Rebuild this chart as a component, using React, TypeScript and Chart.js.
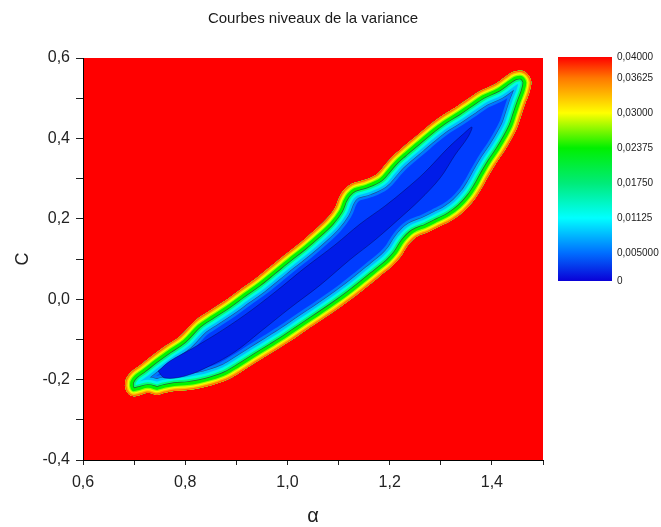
import React, { useEffect, useRef } from 'react';
import { Chart, registerables } from 'chart.js';

Chart.register(...registerables);

const FONT = "'Liberation Sans', Arial, Helvetica, sans-serif";
Chart.defaults.font.family = FONT;

// ---------- data ----------
const TITLE = 'Courbes niveaux de la variance';
const X_TITLE = 'α';
const Y_TITLE = 'C';

const X_TICKS = [0.6, 0.7, 0.8, 0.9, 1.0, 1.1, 1.2, 1.3, 1.4, 1.5];
const X_TICK_LABELS = ['0,6', '', '0,8', '', '1,0', '', '1,2', '', '1,4', ''];
const Y_TICKS = [-0.4, -0.3, -0.2, -0.1, 0, 0.1, 0.2, 0.3, 0.4, 0.5, 0.6];
const Y_TICK_LABELS = ['-0,4', '', '-0,2', '', '0,0', '', '0,2', '', '0,4', '', '0,6'];

const CB_TICKS = [0, 0.005, 0.01125, 0.0175, 0.02375, 0.03, 0.03625, 0.04];
const CB_LABELS = ['0', '0,005000', '0,01125', '0,01750', '0,02375', '0,03000', '0,03625', '0,04000'];

// outer contour (variance = 0.04), [alpha, C]
const OUTER_CONTOUR: [number, number][] = [
  [0.682, -0.216], [0.684, -0.199], [0.694, -0.181], [0.712, -0.164], [0.735, -0.141],
  [0.762, -0.116], [0.790, -0.092], [0.819, -0.054], [0.848, -0.029], [0.878, -0.004],
  [0.907, 0.023], [0.937, 0.050], [0.966, 0.080], [0.995, 0.110], [1.025, 0.140],
  [1.054, 0.172], [1.077, 0.200], [1.093, 0.227], [1.101, 0.252], [1.111, 0.272],
  [1.126, 0.287], [1.152, 0.297], [1.175, 0.311], [1.189, 0.331], [1.205, 0.354],
  [1.220, 0.371], [1.246, 0.399], [1.273, 0.428], [1.299, 0.453], [1.328, 0.476],
  [1.351, 0.496], [1.377, 0.518], [1.406, 0.535], [1.426, 0.553], [1.441, 0.565],
  [1.459, 0.568], [1.471, 0.558], [1.477, 0.540],
  [1.473, 0.513], [1.465, 0.486], [1.457, 0.456], [1.449, 0.426], [1.437, 0.396],
  [1.422, 0.364], [1.406, 0.334], [1.392, 0.304], [1.379, 0.274], [1.365, 0.247],
  [1.345, 0.219], [1.322, 0.197], [1.299, 0.182], [1.275, 0.167], [1.252, 0.155],
  [1.236, 0.135], [1.222, 0.107], [1.205, 0.083], [1.181, 0.058], [1.154, 0.030],
  [1.126, 0.002], [1.099, -0.023], [1.068, -0.050], [1.036, -0.077], [1.005, -0.104],
  [0.974, -0.129], [0.942, -0.154], [0.911, -0.179], [0.884, -0.199], [0.854, -0.213],
  [0.829, -0.221], [0.805, -0.226], [0.780, -0.228], [0.760, -0.233], [0.745, -0.238],
  [0.727, -0.233], [0.712, -0.238], [0.696, -0.241], [0.686, -0.231], [0.682, -0.216],
];

// inner core contour (lowest variance)
const CORE_CONTOUR: [number, number][] = [
  [0.747, -0.179], [0.770, -0.154], [0.809, -0.126], [0.858, -0.089], [0.917, -0.039],
  [0.976, 0.018], [1.034, 0.078], [1.093, 0.135], [1.142, 0.187], [1.191, 0.232],
  [1.230, 0.272], [1.269, 0.316], [1.314, 0.376], [1.344, 0.411], [1.361, 0.428],
  [1.353, 0.403], [1.328, 0.359], [1.299, 0.302], [1.259, 0.247], [1.216, 0.197],
  [1.171, 0.147], [1.122, 0.098], [1.064, 0.035], [1.005, -0.022], [0.946, -0.082],
  [0.897, -0.131], [0.848, -0.166], [0.800, -0.191], [0.760, -0.196], [0.747, -0.179],
];

// ---------- styles ----------
const FIELD_COLOR = 'rgb(255,0,0)';
// inward bands from the outer contour: [inset in px, colour]
const BANDS: [number, string][] = [
  [1.3, 'rgb(255,110,0)'],
  [2.6, 'rgb(255,190,0)'],
  [3.9, 'rgb(240,255,0)'],
  [5, 'rgb(140,255,0)'],
  [8, 'rgb(0,245,0)'],
  [8.7, 'rgb(40,100,50)'],
  [10.5, 'rgb(0,255,120)'],
  [13, 'rgb(0,250,230)'],
  [15.5, 'rgb(0,190,255)'],
  [16.1, 'rgb(30,80,150)'],
  [18.5, 'rgb(0,120,255)'],
];
const BLUE = 'rgb(0,60,255)';
const CORE_BLUE = 'rgb(0,28,232)';

const CB_STOPS: [number, string][] = [
  [0, 'rgb(10,0,215)'],
  [0.005, 'rgb(0,110,255)'],
  [0.01125, 'rgb(0,255,255)'],
  [0.0175, 'rgb(0,235,120)'],
  [0.02375, 'rgb(0,240,0)'],
  [0.03, 'rgb(255,255,0)'],
  [0.03625, 'rgb(255,120,0)'],
  [0.04, 'rgb(255,0,0)'],
];

const toPts = (arr: [number, number][]) => arr.map(([x, y]) => ({ x, y }));

export default function App() {
  const mainRef = useRef<HTMLCanvasElement>(null);
  const cbRef = useRef<HTMLCanvasElement>(null);

  useEffect(() => {
    if (!mainRef.current || !cbRef.current) return;

    const clipped = new Set<number>();
    const shapeClip = {
      id: 'shapeClip',
      beforeDatasetDraw(chart: any, args: any) {
        const ds: any = chart.data.datasets[args.index];
        if (!ds.clipShape) return;
        const line: any = args.meta.dataset;
        if (!line) return;
        const ctx = chart.ctx;
        ctx.save();
        if (line.updateControlPoints) line.updateControlPoints(chart.chartArea, 'x');
        ctx.beginPath();
        line.path(ctx);
        ctx.closePath();
        ctx.clip();
        clipped.add(args.index);
      },
      afterDatasetDraw(chart: any, args: any) {
        if (clipped.has(args.index)) {
          chart.ctx.restore();
          clipped.delete(args.index);
        }
      },
    };
    const redField = {
      id: 'redField',
      beforeDraw(chart: any) {
        const { ctx, chartArea: a } = chart;
        ctx.save();
        ctx.fillStyle = FIELD_COLOR;
        ctx.fillRect(a.left, a.top, a.right - a.left, a.bottom - a.top);
        ctx.restore();
      },
    };

    const outer = toPts(OUTER_CONTOUR);
    const datasets: any[] = [];
    datasets.push({
      data: toPts(CORE_CONTOUR),
      fill: 'shape',
      backgroundColor: CORE_BLUE,
      borderColor: 'rgba(0,0,70,0.6)',
      borderWidth: 0.7,
      tension: 0.35,
      pointRadius: 0,
    });
    BANDS.forEach(([inset, color]) => {
      datasets.push({
        data: outer,
        fill: false,
        borderColor: color,
        borderWidth: inset * 2,
        borderJoinStyle: 'round',
        borderCapStyle: 'round',
        tension: 0.35,
        pointRadius: 0,
        clipShape: true,
      });
    });
    datasets.push({
      data: outer,
      fill: 'shape',
      backgroundColor: BLUE,
      borderWidth: 0,
      tension: 0.35,
      pointRadius: 0,
    });

    const tickFont = { size: 16 };
    const main = new Chart(mainRef.current, {
      type: 'line',
      data: { datasets },
      plugins: [redField, shapeClip],
      options: {
        animation: false,
        responsive: false,
        events: [],
        layout: { padding: 0 },
        plugins: {
          legend: { display: false },
          tooltip: { enabled: false },
          title: {
            display: true,
            text: TITLE,
            color: '#1a1a1a',
            font: { size: 15, weight: 'normal', lineHeight: 1.2 },
            padding: { top: 10, bottom: 30 },
          },
        },
        scales: {
          x: {
            type: 'linear',
            min: 0.6,
            max: 1.5,
            afterBuildTicks: (s: any) => { s.ticks = X_TICKS.map((value) => ({ value })); },
            afterFit: (s: any) => { s.height = 67; },
            ticks: {
              autoSkip: false,
              maxRotation: 0,
              padding: 8,
              color: '#222',
              font: tickFont,
              callback: (_v: any, i: number) => X_TICK_LABELS[i],
            },
            grid: { display: true, drawOnChartArea: false, drawTicks: true, tickLength: 5, color: '#222' },
            border: { display: true, color: '#000', width: 1 },
            title: {
              display: true,
              text: X_TITLE,
              color: '#222',
              font: { size: 20, lineHeight: 1.1 },
              padding: { top: 0, bottom: 0 },
            },
          },
          y: {
            type: 'linear',
            min: -0.4,
            max: 0.6,
            afterBuildTicks: (s: any) => { s.ticks = Y_TICKS.map((value) => ({ value })); },
            afterFit: (s: any) => { s.width = 83; },
            ticks: {
              autoSkip: false,
              padding: 6,
              color: '#222',
              font: tickFont,
              callback: (_v: any, i: number) => Y_TICK_LABELS[i],
            },
            grid: { display: true, drawOnChartArea: false, drawTicks: true, tickLength: 7, color: '#222' },
            border: { display: true, color: '#000', width: 1 },
            title: {
              display: true,
              text: Y_TITLE,
              color: '#222',
              font: { size: 18, lineHeight: 1.2 },
              padding: { top: 12, bottom: 0 },
            },
          },
          yr: {
            type: 'linear',
            position: 'right',
            display: true,
            grid: { display: false, drawTicks: false },
            border: { display: false },
            ticks: { display: false },
            afterFit: (s: any) => { s.width = 83; },
          },
        },
      } as any,
    });

    const cb = new Chart(cbRef.current, {
      type: 'bar',
      data: {
        labels: [''],
        datasets: [
          {
            data: [[CB_TICKS[0], CB_TICKS[CB_TICKS.length - 1]]],
            borderWidth: 0,
            barPercentage: 1,
            categoryPercentage: 1,
            backgroundColor: (ctx: any) => {
              const chart = ctx.chart;
              const ys = chart.scales && chart.scales.y;
              if (!ys || !chart.chartArea) return 'rgb(255,0,0)';
              const lo = CB_STOPS[0][0];
              const hi = CB_STOPS[CB_STOPS.length - 1][0];
              const g = chart.ctx.createLinearGradient(0, ys.getPixelForValue(lo), 0, ys.getPixelForValue(hi));
              CB_STOPS.forEach(([v, c]) => g.addColorStop((v - lo) / (hi - lo), c));
              return g;
            },
          } as any,
        ],
      },
      options: {
        animation: false,
        responsive: false,
        events: [],
        layout: { padding: { left: 10, top: 57, bottom: 19, right: 0 } },
        plugins: { legend: { display: false }, tooltip: { enabled: false }, title: { display: false } },
        scales: {
          x: { display: false },
          y: {
            position: 'right',
            min: 0,
            max: 0.04,
            afterBuildTicks: (s: any) => { s.ticks = CB_TICKS.map((value) => ({ value })); },
            afterFit: (s: any) => { s.width = 49; },
            grid: { display: false, drawTicks: false },
            border: { display: false },
            ticks: {
              autoSkip: false,
              padding: 5,
              color: '#222',
              font: { size: 10 },
              callback: (_v: any, i: number) => CB_LABELS[i],
            },
          },
        },
      } as any,
    });

    return () => {
      main.destroy();
      cb.destroy();
    };
  }, []);

  return (
    <div style={{ position: 'absolute', left: 0, top: 0, width: 661, height: 527, background: '#fff' }}>
      <canvas ref={mainRef} width={626} height={527} style={{ position: 'absolute', left: 0, top: 0 }} />
      <canvas ref={cbRef} width={113} height={300} style={{ position: 'absolute', left: 548, top: 0 }} />
    </div>
  );
}
